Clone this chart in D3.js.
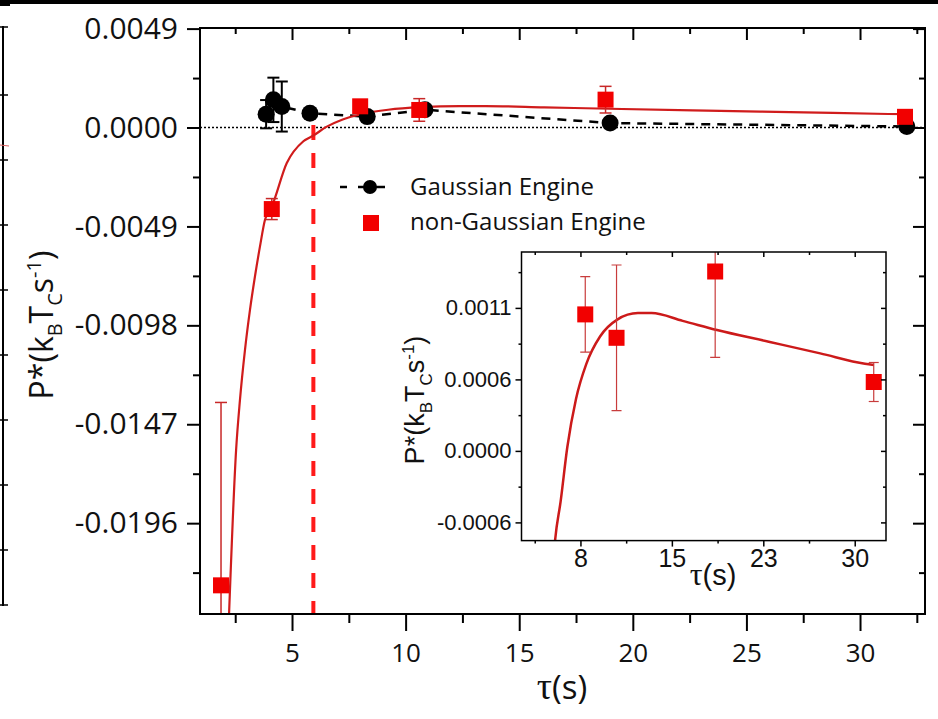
<!DOCTYPE html>
<html>
<head>
<meta charset="UTF-8">
<title>Chart</title>
<script src="https://cdn.jsdelivr.net/npm/d3@7"></script>
<style>
    body { margin: 0; background: #fff; }
    svg { display: block; }
</style>
</head>
<body>
<div id="graph-container"></div>
<script>
// Gaussian engine (black circles, dashed line)
const gaussTau = [3.86, 4.18, 4.55, 5.79, 8.31, 10.85, 19.0, 32.06];
const gaussP = [0.00066, 0.00137, 0.00104, 0.00071, 0.00054, 0.00088, 0.00022, 0.00005];
const gaussErr = [0.0007, 0.0011, 0.00124, 0, 0, 0, 0, 0];

// non-Gaussian engine (red squares)
const nonGaussTau = [1.875, 4.11, 8.0, 10.6, 18.8, 31.98];
const nonGaussP = [-0.02268, -0.00404, 0.00105, 0.00087, 0.00138, 0.00053];
const nonGaussErr = [0.00906, 0.00052, 0.00029, 0.00056, 0.00066, 0.00015];

// fitted curve
const fitTau = [2.23, 2.54, 2.71, 2.93, 3.15, 3.37, 3.59, 3.81, 4.11, 4.77, 5.50, 5.95, 6.51, 7.23, 8.09, 9.23, 10.66, 12.38, 13.52, 16.10, 18.95, 23.25, 27.53, 31.25, 32.0];
const fitP = [-0.02407, -0.01596, -0.01348, -0.01101, -0.00903, -0.00737, -0.00589, -0.00457, -0.00391, -0.00176, -0.00068, -0.00039, 0.00003, 0.00040, 0.00067, 0.00088, 0.00101, 0.00106, 0.00106, 0.00100, 0.00093, 0.00084, 0.00075, 0.00067, 0.00066];

// vertical marker where power changes sign
const thresholdTau = 5.94;
const thresholdTop = 0.00012;

// main axes
const xTicks = [5, 10, 15, 20, 25, 30];
const xMinor = [2.5, 7.5, 12.5, 17.5, 22.5, 27.5, 32.5];
const yTicks = [0.0049, 0, -0.0049, -0.0098, -0.0147, -0.0196];
const yTickLabels = ["0.0049", "0.0000", "-0.0049", "-0.0098", "-0.0147", "-0.0196"];
const yMinor = [0.00245, -0.00245, -0.00735, -0.01225, -0.01715, -0.02205];

// inset axes
const insetXTicks = [7.6, 15.2, 22.8, 30.4];
const insetXTickLabels = ["8", "15", "23", "30"];
const insetXMinor = [3.8, 11.4, 19.0, 26.6];
const insetYTicks = [0.0011, 0.00055, 0, -0.00055];
const insetYTickLabels = ["0.0011", "0.0006", "0.0000", "-0.0006"];
const insetYMinor = [0.001375, 0.000825, 0.000275, -0.000275];

const legendLabels = ["Gaussian Engine", "non-Gaussian Engine"];

const gauss = gaussTau.map((t, i) => ({ t: t, p: gaussP[i], e: gaussErr[i] }));
const nonGauss = nonGaussTau.map((t, i) => ({ t: t, p: nonGaussP[i], e: nonGaussErr[i] }));
const fit = fitTau.map((t, i) => ({ t: t, p: fitP[i] }));

const svg = d3.select("#graph-container")
    .append("svg")
    .attr("width", 938)
    .attr("height", 719);

// strip of the page above and the neighbouring panel on the left
svg.append("rect").attr("x", 0).attr("y", 0).attr("width", 938).attr("height", 4).attr("fill", "#000");
svg.append("rect").attr("x", 0).attr("y", 0).attr("width", 10).attr("height", 6).attr("fill", "#000");
svg.append("line").attr("x1", 3).attr("x2", 3).attr("y1", 26).attr("y2", 606)
    .attr("stroke", "#000").attr("stroke-width", 2);
[27, 95, 160, 225, 290, 355, 420, 485, 550, 605].forEach(yy => {
    svg.append("line").attr("x1", 0).attr("x2", 8).attr("y1", yy).attr("y2", yy)
        .attr("stroke", "#000").attr("stroke-width", 1.5);
});
svg.append("line").attr("x1", 0).attr("x2", 9).attr("y1", 145).attr("y2", 146)
    .attr("stroke", "#d86060").attr("stroke-width", 1);

// ---------- main plot ----------
const margin = { top: 28, left: 200 };
const width = 725;
const height = 586;

const g = svg.append("g").attr("transform", `translate(${margin.left},${margin.top})`);

const x = d3.scaleLinear().domain([0.95, 32.86]).range([0, width]);
const y = d3.scaleLinear().domain([-0.0241, 0.00493]).range([height, 0]);

g.append("clipPath").attr("id", "main-clip")
    .append("rect").attr("width", width).attr("height", height);

const plot = g.append("g").attr("clip-path", "url(#main-clip)");

// zero line
plot.append("line")
    .attr("x1", 0).attr("x2", width)
    .attr("y1", y(0)).attr("y2", y(0))
    .attr("stroke", "#000").attr("stroke-width", 1.5)
    .attr("stroke-dasharray", "2,2");

// vertical red dashed marker
plot.append("line")
    .attr("x1", x(thresholdTau)).attr("x2", x(thresholdTau))
    .attr("y1", y(thresholdTop)).attr("y2", y(y.domain()[0]))
    .attr("stroke", "#ff1a1a").attr("stroke-width", 4)
    .attr("stroke-dasharray", "15,13");

// Gaussian dashed line
plot.append("path")
    .datum(gauss)
    .attr("fill", "none")
    .attr("stroke", "#000")
    .attr("stroke-width", 2.5)
    .attr("stroke-dasharray", "9,7")
    .attr("d", d3.line().x(d => x(d.t)).y(d => y(d.p)));

// fit curve
plot.append("path")
    .datum(fit)
    .attr("fill", "none")
    .attr("stroke", "#d01c1c")
    .attr("stroke-width", 2.2)
    .attr("d", d3.line().x(d => x(d.t)).y(d => y(d.p)).curve(d3.curveMonotoneX));

// error bars
function errorBars(sel, data, xs, ys, color, w, cap) {
    const eb = sel.append("g").attr("stroke", color).attr("stroke-width", w);
    data.filter(d => d.e > 0).forEach(d => {
        eb.append("line").attr("x1", xs(d.t)).attr("x2", xs(d.t))
            .attr("y1", ys(d.p - d.e)).attr("y2", ys(d.p + d.e));
        [d.p - d.e, d.p + d.e].forEach(v => {
            eb.append("line").attr("x1", xs(d.t) - cap).attr("x2", xs(d.t) + cap)
                .attr("y1", ys(v)).attr("y2", ys(v));
        });
    });
}

errorBars(plot, gauss, x, y, "#000", 2, 6);

plot.selectAll(".gauss-point")
    .data(gauss)
    .join("circle")
    .attr("class", "gauss-point")
    .attr("cx", d => x(d.t))
    .attr("cy", d => y(d.p))
    .attr("r", 8.5)
    .attr("fill", "#000");

errorBars(plot, nonGauss, x, y, "#c82828", 1.5, 6);

plot.selectAll(".ng-point")
    .data(nonGauss)
    .join("rect")
    .attr("class", "ng-point")
    .attr("x", d => x(d.t) - 8)
    .attr("y", d => y(d.p) - 8)
    .attr("width", 16)
    .attr("height", 16)
    .attr("fill", "#f20000");

// axes
function styleAxis(sel, fontSize, family, strokeW) {
    sel.select(".domain").remove();
    sel.selectAll(".tick line").attr("stroke", "#000").attr("stroke-width", strokeW);
    sel.selectAll(".tick text")
        .attr("fill", "#111")
        .style("font-family", family)
        .style("font-size", fontSize + "px");
}

const mainFont = "'Open Sans', sans-serif";

g.append("g")
    .call(d3.axisLeft(y).tickValues(yTicks).tickFormat((d, i) => yTickLabels[i]).tickSize(13).tickPadding(9))
    .call(s => styleAxis(s, 30, mainFont, 2));
g.append("g")
    .call(d3.axisLeft(y).tickValues(yMinor).tickFormat("").tickSize(7))
    .call(s => styleAxis(s, 30, mainFont, 2));

g.append("g")
    .attr("transform", `translate(0,${height})`)
    .call(d3.axisBottom(x).tickValues(xTicks).tickSize(17).tickPadding(13))
    .call(s => styleAxis(s, 26, mainFont, 2));
g.append("g")
    .attr("transform", `translate(0,${height})`)
    .call(d3.axisBottom(x).tickValues(xMinor).tickFormat("").tickSize(9))
    .call(s => styleAxis(s, 26, mainFont, 2));

g.append("g")
    .call(d3.axisTop(x).tickValues(xTicks).tickFormat("").tickSize(-12))
    .call(s => styleAxis(s, 26, mainFont, 2));
g.append("g")
    .call(d3.axisTop(x).tickValues(xMinor).tickFormat("").tickSize(-6))
    .call(s => styleAxis(s, 26, mainFont, 2));

g.append("g")
    .attr("transform", `translate(${width},0)`)
    .call(d3.axisRight(y).tickValues(yTicks).tickFormat("").tickSize(-12))
    .call(s => styleAxis(s, 26, mainFont, 2));
g.append("g")
    .attr("transform", `translate(${width},0)`)
    .call(d3.axisRight(y).tickValues(yMinor).tickFormat("").tickSize(-6))
    .call(s => styleAxis(s, 26, mainFont, 2));

// frame
g.append("rect")
    .attr("width", width).attr("height", height)
    .attr("fill", "none").attr("stroke", "#000").attr("stroke-width", 2);

// axis labels
function powerLabel(sel, size) {
    const sub = Math.round(size * 0.62);
    sel.append("tspan").text("P*(k");
    sel.append("tspan").attr("font-size", sub).attr("dy", size * 0.28).text("B");
    sel.append("tspan").attr("dy", -size * 0.28).text("T");
    sel.append("tspan").attr("font-size", sub).attr("dy", size * 0.28).text("C");
    sel.append("tspan").attr("dy", -size * 0.28).text("s");
    sel.append("tspan").attr("font-size", sub).attr("dy", -size * 0.38).text("-1");
    sel.append("tspan").attr("dy", size * 0.38).text(")");
}

const yLabel = svg.append("text")
    .attr("transform", "translate(53,325) rotate(-90)")
    .attr("text-anchor", "middle")
    .attr("fill", "#111")
    .style("font-family", mainFont)
    .attr("font-size", 32);
powerLabel(yLabel, 32);

function tauLabel(sel, family, tauScale) {
    sel.append("tspan").style("font-family", "'Liberation Serif', serif")
        .attr("font-size", tauScale).text("τ");
    sel.append("tspan").style("font-family", family).text("(s)");
}

const xLabel = svg.append("text")
    .attr("x", 562).attr("y", 699)
    .attr("text-anchor", "middle")
    .attr("fill", "#111")
    .attr("font-size", 33);
tauLabel(xLabel, mainFont, 38);

// legend
const legend = svg.append("g").attr("transform", "translate(340,187)");
legend.append("line").attr("x1", 0).attr("x2", 7).attr("y1", 0).attr("y2", 0)
    .attr("stroke", "#000").attr("stroke-width", 2.5);
legend.append("line").attr("x1", 18).attr("x2", 45).attr("y1", 0).attr("y2", 0)
    .attr("stroke", "#000").attr("stroke-width", 2.5);
legend.append("circle").attr("cx", 30).attr("cy", 0).attr("r", 7).attr("fill", "#000");
legend.append("rect").attr("x", 23).attr("y", 28).attr("width", 16).attr("height", 16).attr("fill", "#f20000");
legend.selectAll(".legend-label")
    .data(legendLabels)
    .join("text")
    .attr("class", "legend-label")
    .attr("x", 70)
    .attr("y", (d, i) => 8 + i * 35)
    .attr("fill", "#111")
    .style("font-family", mainFont)
    .style("font-size", "24px")
    .text(d => d);

// ---------- inset ----------
const inset = { left: 521.5, top: 252, width: 364.5, height: 288.6 };
const ig = svg.append("g").attr("transform", `translate(${inset.left},${inset.top})`);

const xi = d3.scaleLinear().domain([2.7, 33.0]).range([0, inset.width]);
const yi = d3.scaleLinear().domain([-0.00069, 0.00153]).range([inset.height, 0]);

ig.append("rect").attr("width", inset.width).attr("height", inset.height).attr("fill", "#fff");
ig.append("clipPath").attr("id", "inset-clip")
    .append("rect").attr("width", inset.width).attr("height", inset.height);

const iplot = ig.append("g").attr("clip-path", "url(#inset-clip)");

iplot.append("path")
    .datum(fit)
    .attr("fill", "none")
    .attr("stroke", "#cc1a1a")
    .attr("stroke-width", 2.5)
    .attr("d", d3.line().x(d => xi(d.t)).y(d => yi(d.p)).curve(d3.curveMonotoneX));

errorBars(iplot, nonGauss, xi, yi, "#c83c3c", 1.2, 5);

iplot.selectAll(".ng-inset")
    .data(nonGauss)
    .join("rect")
    .attr("class", "ng-inset")
    .attr("x", d => xi(d.t) - 8)
    .attr("y", d => yi(d.p) - 8)
    .attr("width", 16)
    .attr("height", 16)
    .attr("fill", "#f20000");

const insetFont = "'Liberation Sans', Arial, sans-serif";

ig.append("g")
    .call(d3.axisLeft(yi).tickValues(insetYTicks).tickFormat((d, i) => insetYTickLabels[i]).tickSize(6).tickPadding(4))
    .call(s => styleAxis(s, 22, insetFont, 1.5));
ig.append("g")
    .call(d3.axisLeft(yi).tickValues(insetYMinor).tickFormat("").tickSize(3))
    .call(s => styleAxis(s, 22, insetFont, 1.5));
ig.append("g")
    .attr("transform", `translate(0,${inset.height})`)
    .call(d3.axisBottom(xi).tickValues(insetXTicks).tickFormat((d, i) => insetXTickLabels[i]).tickSize(6).tickPadding(3))
    .call(s => styleAxis(s, 25, insetFont, 1.5));
ig.append("g")
    .attr("transform", `translate(0,${inset.height})`)
    .call(d3.axisBottom(xi).tickValues(insetXMinor).tickFormat("").tickSize(3))
    .call(s => styleAxis(s, 25, insetFont, 1.5));
ig.append("g")
    .call(d3.axisTop(xi).tickValues(insetXTicks).tickFormat("").tickSize(-5))
    .call(s => styleAxis(s, 25, insetFont, 1.5));
ig.append("g")
    .call(d3.axisTop(xi).tickValues(insetXMinor).tickFormat("").tickSize(-3))
    .call(s => styleAxis(s, 25, insetFont, 1.5));
ig.append("g")
    .attr("transform", `translate(${inset.width},0)`)
    .call(d3.axisRight(yi).tickValues(insetYTicks).tickFormat("").tickSize(-5))
    .call(s => styleAxis(s, 25, insetFont, 1.5));
ig.append("g")
    .attr("transform", `translate(${inset.width},0)`)
    .call(d3.axisRight(yi).tickValues(insetYMinor).tickFormat("").tickSize(-3))
    .call(s => styleAxis(s, 25, insetFont, 1.5));

ig.append("rect")
    .attr("width", inset.width).attr("height", inset.height)
    .attr("fill", "none").attr("stroke", "#000").attr("stroke-width", 1.5);

const iyLabel = svg.append("text")
    .attr("transform", "translate(424,400) rotate(-90)")
    .attr("text-anchor", "middle")
    .attr("fill", "#111")
    .style("font-family", insetFont)
    .attr("font-size", 27);
powerLabel(iyLabel, 27);

const ixLabel = svg.append("text")
    .attr("x", 713).attr("y", 585)
    .attr("text-anchor", "middle")
    .attr("fill", "#111")
    .attr("font-size", 29);
tauLabel(ixLabel, insetFont, 32);
</script>
</body>
</html>
